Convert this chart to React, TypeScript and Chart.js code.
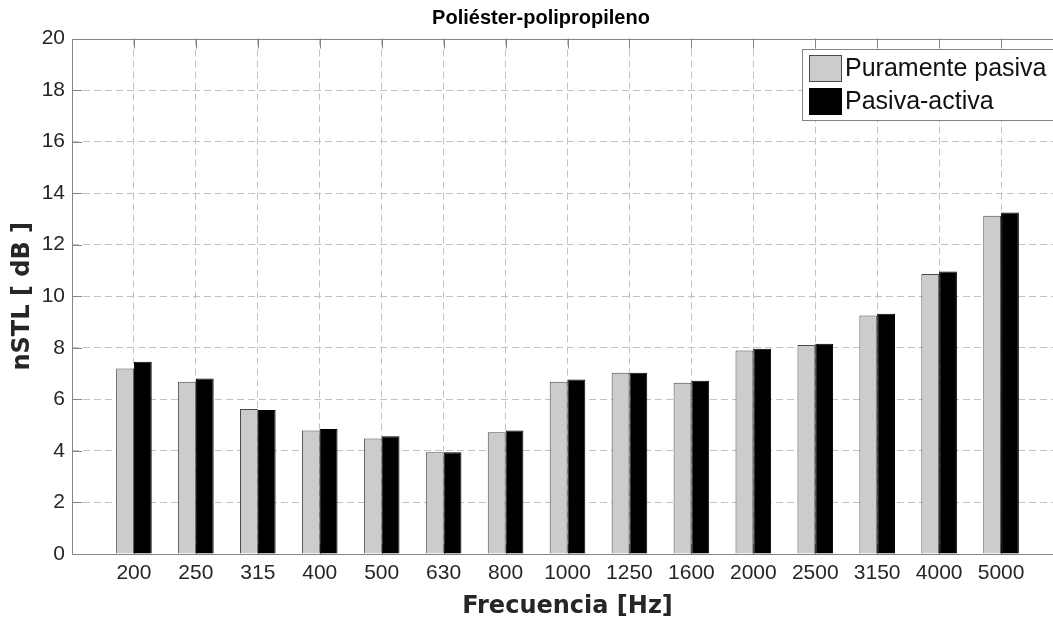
import React, { useEffect, useRef } from "react";
import { Chart, registerables } from "chart.js";

Chart.register(...registerables);

const categories = ["200", "250", "315", "400", "500", "630", "800", "1000", "1250", "1600", "2000", "2500", "3150", "4000", "5000"];
const puramentePasiva = [7.2, 6.68, 5.63, 4.79, 4.48, 3.95, 4.72, 6.68, 7.03, 6.64, 7.9, 8.11, 9.25, 10.86, 13.12];
const pasivaActiva = [7.46, 6.81, 5.59, 4.85, 4.57, 3.95, 4.79, 6.77, 7.03, 6.72, 7.96, 8.16, 9.32, 10.96, 13.25];
const yTicks = [0, 2, 4, 6, 8, 10, 12, 14, 16, 18, 20];
const seriesNames = ["Puramente pasiva", "Pasiva-activa"];
const seriesColors = ["#cccccc", "#000000"];
const seriesEdges = ["#4a4a4a", "#000000"];

const SANS = "'Liberation Sans', Arial, sans-serif";
const BOLD_WIDE = "'DejaVu Sans', sans-serif";
const AXIS_COLOR = "#848484";
const GRID_COLOR = "#c2c2c2";

const framePlugin = {
  id: "matlabFrame",
  beforeDatasetsDraw(chart: any) {
    const { ctx, chartArea: a, scales } = chart;
    ctx.save();
    ctx.strokeStyle = AXIS_COLOR;
    ctx.lineWidth = 1;
    ctx.beginPath();
    scales.y.ticks.forEach((_t: any, i: number) => {
      const y = Math.round(scales.y.getPixelForTick(i)) + 0.5;
      ctx.moveTo(a.left, y);
      ctx.lineTo(a.left + 10, y);
    });
    for (let i = 1; i <= categories.length; i++) {
      const x = Math.round(scales.x.getPixelForTick(i)) + 0.5;
      ctx.moveTo(x, a.top);
      ctx.lineTo(x, a.top + 10);
      ctx.moveTo(x, a.bottom);
      ctx.lineTo(x, a.bottom - 10);
    }
    ctx.stroke();
    ctx.restore();
  },
  afterDatasetsDraw(chart: any) {
    const { ctx, chartArea: a } = chart;
    ctx.save();
    ctx.strokeStyle = AXIS_COLOR;
    ctx.lineWidth = 1;
    const l = Math.round(a.left) + 0.5;
    const t = Math.round(a.top) + 0.5;
    const b = Math.round(a.bottom) + 0.5;
    ctx.beginPath();
    ctx.moveTo(a.right + 2, t);
    ctx.lineTo(l, t);
    ctx.lineTo(l, b);
    ctx.lineTo(a.right + 2, b);
    ctx.stroke();
    ctx.restore();
  },
  afterDraw(chart: any) {
    const { ctx } = chart;
    ctx.save();
    const bx = 802.5, by = 49.5, bw = 256, bh = 71;
    ctx.fillStyle = "#ffffff";
    ctx.fillRect(bx, by, bw, bh);
    ctx.strokeStyle = AXIS_COLOR;
    ctx.lineWidth = 1;
    ctx.strokeRect(bx, by, bw, bh);
    chart.data.datasets.forEach((ds: any, i: number) => {
      const sy = 55.5 + i * 33;
      ctx.fillStyle = ds.backgroundColor;
      ctx.fillRect(809.5, sy, 32, 26);
      ctx.strokeStyle = ds.borderColor;
      ctx.strokeRect(809.5, sy, 32, 26);
      ctx.fillStyle = "#111111";
      ctx.font = `25px ${SANS}`;
      ctx.textAlign = "left";
      ctx.textBaseline = "middle";
      ctx.fillText(ds.label, 845, sy + 13.5);
    });
    ctx.restore();
  },
};

export default function App() {
  const canvasRef = useRef<HTMLCanvasElement | null>(null);

  useEffect(() => {
    const canvas = canvasRef.current;
    if (!canvas) return;
    const labels = ["", ...categories, ""];
    const chart = new Chart(canvas, {
      type: "bar",
      data: {
        labels,
        datasets: [
          {
            label: seriesNames[0],
            data: [null, ...puramentePasiva, null],
            backgroundColor: seriesColors[0],
            borderColor: seriesEdges[0],
            borderWidth: 1,
          },
          {
            label: seriesNames[1],
            data: [null, ...pasivaActiva, null],
            backgroundColor: seriesColors[1],
            borderColor: seriesEdges[1],
            borderWidth: 1,
          },
        ],
      },
      options: {
        responsive: false,
        animation: false,
        devicePixelRatio: 1,
        layout: { padding: { left: 19, right: 19, top: 0, bottom: 0 } },
        datasets: { bar: { categoryPercentage: 0.575, barPercentage: 1 } },
        plugins: {
          legend: { display: false },
          tooltip: { enabled: false },
          title: {
            display: true,
            text: "Poliéster-polipropileno",
            color: "#000000",
            font: { family: SANS, size: 20, weight: "bold" },
            padding: { top: 6, bottom: 8.5 },
          },
        },
        scales: {
          x: {
            type: "category",
            offset: false,
            grid: {
              offset: false,
              drawTicks: false,
              color: (c: any) => (c.index === 0 || c.index === labels.length - 1 ? "rgba(0,0,0,0)" : GRID_COLOR),
              lineWidth: 1,
            },
            border: { display: false, dash: [7, 4] },
            ticks: {
              autoSkip: false,
              maxRotation: 0,
              minRotation: 0,
              padding: 7,
              color: "#262626",
              font: { family: SANS, size: 21 },
            },
            title: {
              display: true,
              text: "Frecuencia [Hz]",
              color: "#262626",
              font: { family: BOLD_WIDE, size: 24, weight: "bold" },
              padding: { top: 0, bottom: 3 },
            },
            afterFit: (scale: any) => {
              scale.height = 70;
            },
          },
          y: {
            min: 0,
            max: 20,
            afterBuildTicks: (scale: any) => {
              scale.ticks = yTicks.map((v) => ({ value: v }));
            },
            grid: {
              drawTicks: false,
              color: (c: any) => (c.index === 0 || c.index === yTicks.length - 1 ? "rgba(0,0,0,0)" : GRID_COLOR),
              lineWidth: 1,
            },
            border: { display: false, dash: [7, 4] },
            ticks: {
              padding: 7,
              color: "#262626",
              font: { family: SANS, size: 21 },
            },
            title: {
              display: true,
              text: "nSTL [ dB ]",
              color: "#262626",
              font: { family: BOLD_WIDE, size: 24, weight: "bold", lineHeight: 0.34 },
              padding: { top: 0, bottom: 0 },
            },
            afterFit: (scale: any) => {
              scale.width = 53;
            },
          },
        },
      },
      plugins: [framePlugin],
    } as any);
    return () => chart.destroy();
  }, []);

  return (
    <div style={{ position: "absolute", left: 0, top: 0, width: 1053, height: 624, overflow: "hidden", background: "#ffffff" }}>
      <canvas ref={canvasRef} width={1082} height={624} style={{ width: 1082, height: 624, display: "block" }} />
    </div>
  );
}
